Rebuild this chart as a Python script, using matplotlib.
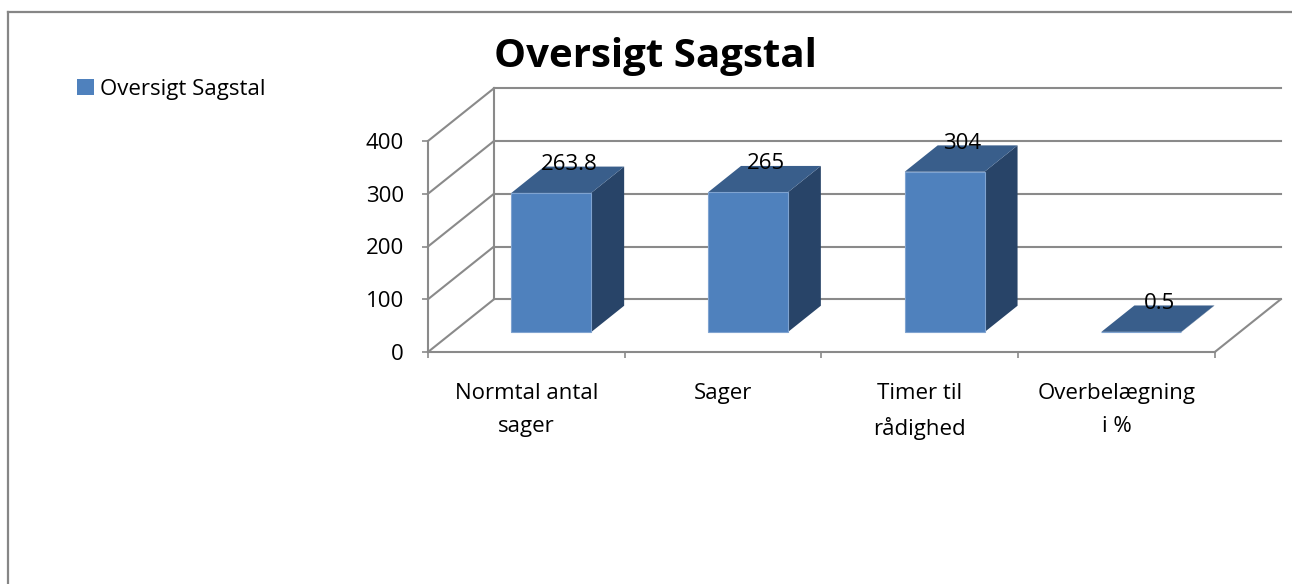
import matplotlib
matplotlib.use("Agg")
import matplotlib.pyplot as plt
from matplotlib.patches import Polygon, Patch
from matplotlib.lines import Line2D

categories = ["Normtal antal\nsager", "Sager", "Timer til\nrådighed", "Overbelægning\ni %"]
values = [263.8, 265, 304, 0.5]
value_labels = ["263.8", "265", "304", "0.5"]
series_name = "Oversigt Sagstal"
title = "Oversigt Sagstal"
yticks = [0, 100, 200, 300, 400]

FONT = "Open Sans"
plt.rcParams['font.family'] = [FONT, 'DejaVu Sans']
FS = 16

W, H = 1292, 584
fig = plt.figure(figsize=(W / 100, H / 100), dpi=100)

# projection geometry (depth offset in data units)
DX, DY = 0.3355, 100.0
n = len(categories)
xmax = n + DX + 0.005
px_per_cat = 196.7
left_px, zero_px = 428, 352
px_per_val = 0.5275
top_px = zero_px - 500 * px_per_val
right_px = left_px + xmax * px_per_cat
ax = fig.add_axes([left_px / W, (H - zero_px) / H, (right_px - left_px) / W, (zero_px - top_px) / H])
ax.set_xlim(0, xmax)
ax.set_ylim(0, 500)
for s in ax.spines.values():
    s.set_visible(False)

grid_c = "#8a8a8a"
glw = 1.5
ymax = yticks[-1]
# back wall gridlines
for v in yticks:
    ax.plot([DX, n + DX], [v + DY, v + DY], color=grid_c, lw=glw, clip_on=False, zorder=1)
    # side wall diagonals
    ax.plot([0, DX], [v, v + DY], color=grid_c, lw=glw, clip_on=False, zorder=1)
# back vertical edge of side wall
ax.plot([DX, DX], [DY, ymax + DY], color=grid_c, lw=glw, clip_on=False, zorder=1)
# front vertical axis
ax.plot([0, 0], [0, ymax], color=grid_c, lw=glw, clip_on=False, zorder=1)
# floor front and right edges
ax.plot([0, n], [0, 0], color=grid_c, lw=glw, clip_on=False, zorder=1)
ax.plot([n, n + DX], [0, DY], color=grid_c, lw=glw, clip_on=False, zorder=1)

# bars
d0, d1 = 0.377, 0.877
hw = 0.203
c_front, c_top, c_side = "#4f81bd", "#395e8b", "#284468"
for i, v in enumerate(values):
    cx = i + 0.5
    x0f, x1f = cx - hw + d0 * DX, cx + hw + d0 * DX
    yb = d0 * DY
    yt = yb + v
    ox, oy = (d1 - d0) * DX, (d1 - d0) * DY
    side = Polygon([(x1f, yb), (x1f + ox, yb + oy), (x1f + ox, yt + oy), (x1f, yt)],
                   closed=True, facecolor=c_side, edgecolor="none", zorder=3)
    top = Polygon([(x0f, yt), (x1f, yt), (x1f + ox, yt + oy), (x0f + ox, yt + oy)],
                  closed=True, facecolor=c_top, edgecolor="none", zorder=3)
    front = Polygon([(x0f, yb), (x1f, yb), (x1f, yt), (x0f, yt)],
                    closed=True, facecolor=c_front, edgecolor="#7fa3d0", lw=0.8, zorder=4)
    for p in (side, top, front):
        ax.add_patch(p)
    tcx = (x0f + x1f) / 2 + ox / 2
    tcy = yt + oy / 2
    ax.annotate(value_labels[i], (tcx, tcy), xytext=(1, 11), textcoords="offset points",
                ha="center", va="center", fontsize=FS, color="black", zorder=6)

# ticks
ax.set_yticks(yticks)
ax.set_yticklabels([str(t) for t in yticks])
ax.tick_params(axis="y", length=4.3, width=1.2, color=grid_c, pad=13, labelsize=FS, left=True)
ax.set_xticks([i + 0.5 for i in range(n)])
ax.set_xticklabels(categories, fontsize=FS, linespacing=1.75)
ax.tick_params(axis="x", which="major", length=0, pad=22)
ax.set_xticks(list(range(n + 1)), minor=True)
ax.tick_params(axis="x", which="minor", length=4.3, width=1.2, color=grid_c)

# title
fig.text(655 / W, 1 - 57 / H, title, ha="center", va="center", fontsize=29, fontweight="bold")

# legend
fig.legend(handles=[Patch(facecolor=c_front, edgecolor="none", label=series_name)],
           loc="center left", bbox_to_anchor=(77 / W, 1 - 89 / H), frameon=False,
           fontsize=FS, handlelength=0.75, handleheight=0.75, handletextpad=0.3, borderpad=0,
           borderaxespad=0)

# outer frame
fig.add_artist(Line2D([8 / W, 8 / W], [0, 1 - 12 / H], transform=fig.transFigure, color="#868686", lw=1.6))
fig.add_artist(Line2D([8 / W, 1], [1 - 12 / H, 1 - 12 / H], transform=fig.transFigure, color="#868686", lw=1.6))

fig.savefig("out.png", dpi=100, facecolor="white")
